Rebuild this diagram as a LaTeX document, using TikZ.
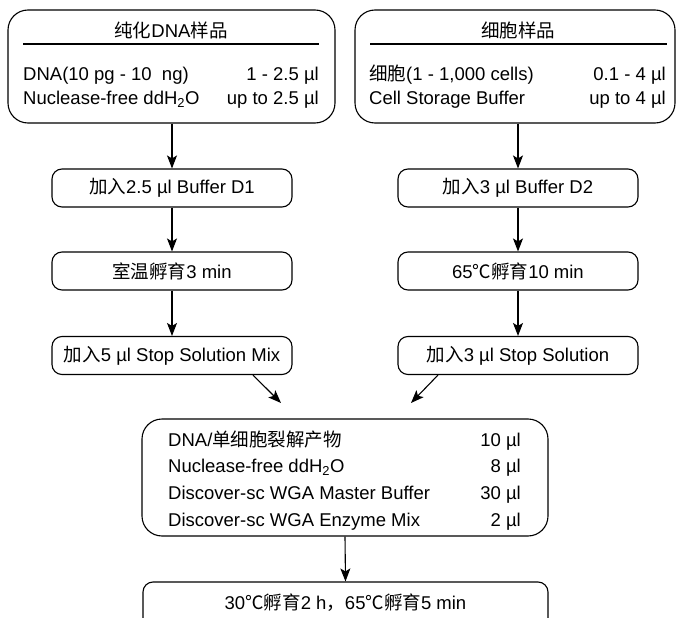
\documentclass[tikz,border=0pt]{standalone}
\usepackage{fontspec}
\setmainfont{Liberation Sans}
\newfontfamily\cjk{Noto Sans CJK SC}
\usetikzlibrary{arrows.meta,calc}
\begin{document}
\begin{tikzpicture}[x=1pt,y=-1pt,
  font=\fontsize{18.5}{22}\selectfont,
  bigbox/.style={draw, line width=1.1pt, rounded corners=20pt, inner sep=0pt},
  stepbox/.style={draw, line width=1.1pt, rounded corners=10pt, minimum width=240pt, minimum height=38pt, inner sep=0pt},
  lbl/.style={inner sep=0pt, anchor=base west},
  rlbl/.style={inner sep=0pt, anchor=base east},
  ttl/.style={inner sep=0pt},
  arr/.style={-{Stealth[length=13pt,width=10pt,inset=3pt]}, line width=1.1pt}]
\path[use as bounding box] (0,0) rectangle (678,618);
\clip (0,0) rectangle (678,618);
% top-left box
\node[bigbox, minimum width=327pt, minimum height=113pt] (L) at (171.5,66.5) {};
\node[ttl] (Lt) at (171,30) {{\cjk 纯化}DNA{\cjk 样品}};
\draw[line width=1.1pt] (23,44) -- (319,44);
\node[lbl] (L1a) at (23,81) {DNA(10 pg - 10 \ ng)};
\node[rlbl] (L1b) at (319,81) {1 - 2.5 µl};
\node[lbl] (L2a) at (23,104) {Nuclease-free ddH\textsubscript{2}O};
\node[rlbl] (L2b) at (319,104) {up to 2.5 µl};
% top-right box
\node[bigbox, minimum width=320pt, minimum height=113pt] (R) at (515,66.5) {};
\node[ttl] (Rt) at (518,30) {{\cjk 细胞样品}};
\draw[line width=1.1pt] (370,44) -- (667,44);
\node[lbl] (R1a) at (369,81) {{\cjk 细胞}(1 - 1,000 cells)};
\node[rlbl] (R1b) at (666,81) {0.1 - 4 µl};
\node[lbl] (R2a) at (369,104) {Cell Storage Buffer};
\node[rlbl] (R2b) at (666,104) {up to 4 µl};
% left steps
\node[stepbox] (lb1) at (172,188) {{\cjk 加入}2.5 µl Buffer D1};
\node[stepbox] (lb2) at (172,271) {{\cjk 室温孵育}3 min};
\node[stepbox] (lb3) at (172,355.5) {{\cjk 加入}5 µl Stop Solution Mix};
% right steps
\node[stepbox] (rb1) at (518,188) {{\cjk 加入}3 µl Buffer D2};
\node[stepbox] (rb2) at (518,271) {65{\cjk ℃孵育}10 min};
\node[stepbox] (rb3) at (518,355.5) {{\cjk 加入}3 µl Stop Solution};
% mix box
\node[bigbox, minimum width=406pt, minimum height=117pt] (M) at (345,477.5) {};
\node[lbl] (M1a) at (168,446) {DNA/{\cjk 单细胞裂解产物}};
\node[rlbl] (M1b) at (521,446) {10 µl};
\node[lbl] (M2a) at (168,472) {Nuclease-free ddH\textsubscript{2}O};
\node[rlbl] (M2b) at (521,472) {8 µl};
\node[lbl] (M3a) at (168,499) {Discover-sc WGA Master Buffer};
\node[rlbl] (M3b) at (521,499) {30 µl};
\node[lbl] (M4a) at (168,526) {Discover-sc WGA Enzyme Mix};
\node[rlbl] (M4b) at (521,526) {2 µl};
% final box (cut off at the bottom)
\node[stepbox, minimum width=405pt, minimum height=52pt] (F) at (345.5,608) {};
\node[ttl] (Ft) at (345.5,603) {30{\cjk ℃孵育}2 h{\cjk ，}65{\cjk ℃孵育}5 min};
% connectors
\draw[arr] (L.south -| lb1.north) -- (lb1.north);
\draw[arr] (lb1) -- (lb2);
\draw[arr] (lb2) -- (lb3);
\draw[arr] (R.south -| rb1.north) -- (rb1.north);
\draw[arr] (rb1) -- (rb2);
\draw[arr] (rb2) -- (rb3);
\coordinate (mL) at (281,403);
\coordinate (mR) at (411,403);
\draw[arr] ($(lb3.south)+(81,0)$) -- (mL);
\draw[arr] ($(rb3.south)+(-80,0)$) -- (mR);
\draw[arr] (M.south) -- (F.north);
\end{tikzpicture}
\end{document}
